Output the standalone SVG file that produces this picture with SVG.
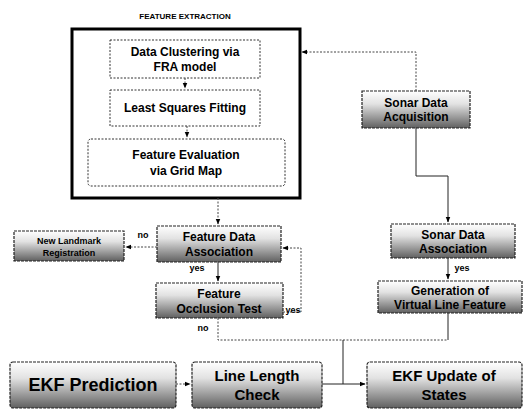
<svg xmlns="http://www.w3.org/2000/svg" width="529" height="410" viewBox="0 0 529 410">
<defs>
<linearGradient id="g" x1="0" y1="0" x2="0" y2="1">
<stop offset="0" stop-color="#ffffff"/>
<stop offset="0.35" stop-color="#e2e2e2"/>
<stop offset="1" stop-color="#606060"/>
</linearGradient>
<marker id="ah" viewBox="0 0 10 10" refX="9" refY="5" markerWidth="6" markerHeight="6" orient="auto-start-reverse">
<path d="M0,1 L10,5 L0,9 z" fill="#000"/>
</marker>
</defs>
<style>
text{font-family:"Liberation Sans",Arial,sans-serif;font-weight:bold;fill:#000;text-anchor:middle}
.t{font-size:12px}
.big{font-size:18px}
.mid{font-size:15px}
.lbl{font-size:9px}
.dot{fill:#fff;stroke:#333;stroke-width:1;stroke-dasharray:2 1.5}
.gr{fill:url(#g);stroke:#222;stroke-width:1.2;stroke-dasharray:3 1}
.c{fill:none;stroke:#222;stroke-width:1}
.d{fill:none;stroke:#444;stroke-width:1;stroke-dasharray:2 1.5}
</style>
<rect width="529" height="410" fill="#fff"/>
<text x="185" y="19" style="font-size:8px">FEATURE EXTRACTION</text>
<g id="feature-extraction">
<rect x="72" y="29" width="228" height="169" fill="#fff" stroke="#000" stroke-width="3"/>
</g>
<g id="data-clustering">
<rect class="dot" x="110" y="40" width="150" height="38"/>
<text class="t" x="185" y="56">Data Clustering via</text>
<text class="t" x="185" y="71">FRA model</text>
</g>
<g id="least-squares">
<rect class="dot" x="110" y="90" width="150" height="36"/>
<text class="t" x="185" y="112">Least Squares Fitting</text>
</g>
<g id="feature-evaluation">
<rect class="dot" x="88" y="139" width="197" height="47" rx="3"/>
<text class="t" x="186" y="159">Feature Evaluation</text>
<text class="t" x="186" y="175">via Grid Map</text>
</g>
<g id="sonar-acq">
<rect class="gr" x="362" y="91" width="108" height="37"/>
<text class="t" x="416" y="107">Sonar Data</text>
<text class="t" x="416" y="121">Acquisition</text>
</g>
<g id="sonar-assoc">
<rect class="gr" x="391" y="224" width="124" height="34"/>
<text class="t" x="453" y="239">Sonar Data</text>
<text class="t" x="453" y="253">Association</text>
</g>
<g id="virtual-line">
<rect class="gr" x="378" y="281" width="144" height="32"/>
<text class="t" x="450" y="295">Generation of</text>
<text class="t" x="450" y="309">Virtual Line Feature</text>
</g>
<g id="feature-assoc">
<rect class="gr" x="157" y="226" width="124" height="36"/>
<text class="t" x="219" y="241">Feature Data</text>
<text class="t" x="219" y="256">Association</text>
</g>
<g id="new-landmark">
<rect class="gr" x="14" y="231" width="110" height="30"/>
<text class="lbl" x="69" y="244">New Landmark</text>
<text class="lbl" x="69" y="256">Registration</text>
</g>
<g id="occlusion">
<rect class="gr" x="156" y="283" width="127" height="35"/>
<text class="t" x="219" y="298">Feature</text>
<text class="t" x="219" y="313">Occlusion Test</text>
</g>
<g id="ekf-prediction">
<rect class="gr" x="10" y="362" width="166" height="46" rx="3"/>
<text class="big" x="93" y="391">EKF Prediction</text>
</g>
<g id="line-length">
<rect class="gr" x="192" y="362" width="130" height="46" rx="3"/>
<text class="mid" x="257" y="381">Line Length</text>
<text class="mid" x="257" y="400">Check</text>
</g>
<g id="ekf-update">
<rect class="gr" x="367" y="362" width="155" height="46" rx="3"/>
<text class="mid" x="444" y="381">EKF Update of</text>
<text class="mid" x="444" y="400">States</text>
</g>
<g id="connectors">
<path class="d" d="M185,78 V88" marker-end="url(#ah)"/>
<path class="d" d="M187,126 V137" marker-end="url(#ah)"/>
<path class="d" d="M416,91 V52 H302" marker-end="url(#ah)"/>
<path class="c" d="M416,128 V176 H448 V222" marker-end="url(#ah)"/>
<path class="c" d="M448,258 V279" marker-end="url(#ah)"/>
<path class="d" d="M218,198 V224" marker-end="url(#ah)"/>
<path class="d" d="M157,247 H126" marker-end="url(#ah)"/>
<path class="c" d="M218,262 V281" marker-end="url(#ah)"/>
<path class="d" d="M283,312 H301 V248 H283" marker-end="url(#ah)"/>
<path class="d" d="M218,318 V340 H448"/>
<path class="c" d="M448,313 V340"/>
<path class="c" d="M343,340 V384"/>
<path class="d" d="M176,384 H190" marker-end="url(#ah)"/>
<path class="c" d="M322,384 H365" marker-end="url(#ah)"/>
<text class="lbl" x="143" y="238">no</text>
<text class="lbl" x="197" y="271">yes</text>
<text class="lbl" x="293" y="313">yes</text>
<text class="lbl" x="203" y="331">no</text>
<text class="lbl" x="462" y="271">yes</text>
</g>
</svg>
